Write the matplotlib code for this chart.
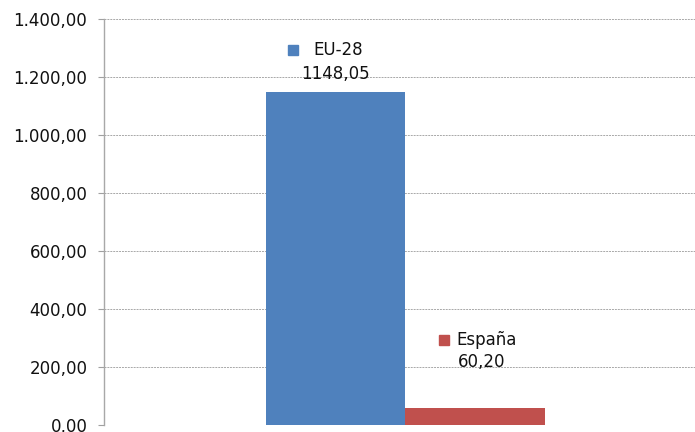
import matplotlib
matplotlib.use("Agg")
import matplotlib.pyplot as plt
from matplotlib.ticker import FuncFormatter
from matplotlib.transforms import ScaledTranslation

series = ["EU-28", "España"]
values = [1148.05, 60.20]
colors = ["#4F81BD", "#C0504D"]
yticks = [0, 200, 400, 600, 800, 1000, 1200, 1400]

# label placement per series (points, relative to bar top centre)
value_offsets = [(0, 12.7), (4.7, 32.8)]
name_offsets = [(-15.8, 30.0), (-13.3, 48.6)]
square_offsets = [(-31, 30.0), (-22.7, 48.6)]

plt.rcParams["font.family"] = "DejaVu Sans"

fig = plt.figure(figsize=(6.95, 4.32), dpi=100)
ax = fig.add_axes([104 / 695, 1 - 425 / 432, 1 - 104 / 695, (425 - 19) / 432])

w = 0.35
centers = [-w / 2, w / 2]
ax.bar(centers, values, width=w, color=colors, zorder=2)

ax.set_xlim(-0.756, 0.726)
ax.set_ylim(0, 1400)
ax.set_yticks(yticks)


def es_fmt(v, _):
    s = f"{v:,.2f}"
    return s.replace(",", "X").replace(".", ",").replace("X", ".")


ax.yaxis.set_major_formatter(FuncFormatter(es_fmt))
ax.yaxis.grid(True, linestyle=(0, (2, 1)), color="#a8a8a8", linewidth=0.7, zorder=0)
ax.set_xticks([])
ax.tick_params(axis="y", direction="out", length=4, width=0.8, color="#a0a0a0",
               labelsize=12, pad=8, labelcolor="#111111")
for side in ["top", "right", "bottom"]:
    ax.spines[side].set_visible(False)
ax.spines["left"].set_color("#a8a8a8")
ax.spines["left"].set_linewidth(1.0)

for c, v, name, col, vo, no, so in zip(centers, values, series, colors,
                                       value_offsets, name_offsets, square_offsets):
    ax.annotate(f"{v:.2f}".replace(".", ","), (c, v), xytext=vo,
                textcoords="offset points", ha="center", va="center",
                fontsize=12, color="#111111")
    ax.annotate(name, (c, v), xytext=no, textcoords="offset points",
                ha="left", va="center", fontsize=12, color="#111111")
    ax.plot([c], [v], marker="s", markersize=7.5, color=col, linestyle="none",
            transform=ax.transData + ScaledTranslation(so[0] / 72, so[1] / 72,
                                                       fig.dpi_scale_trans),
            clip_on=False)

fig.savefig("out.png", dpi=100)
